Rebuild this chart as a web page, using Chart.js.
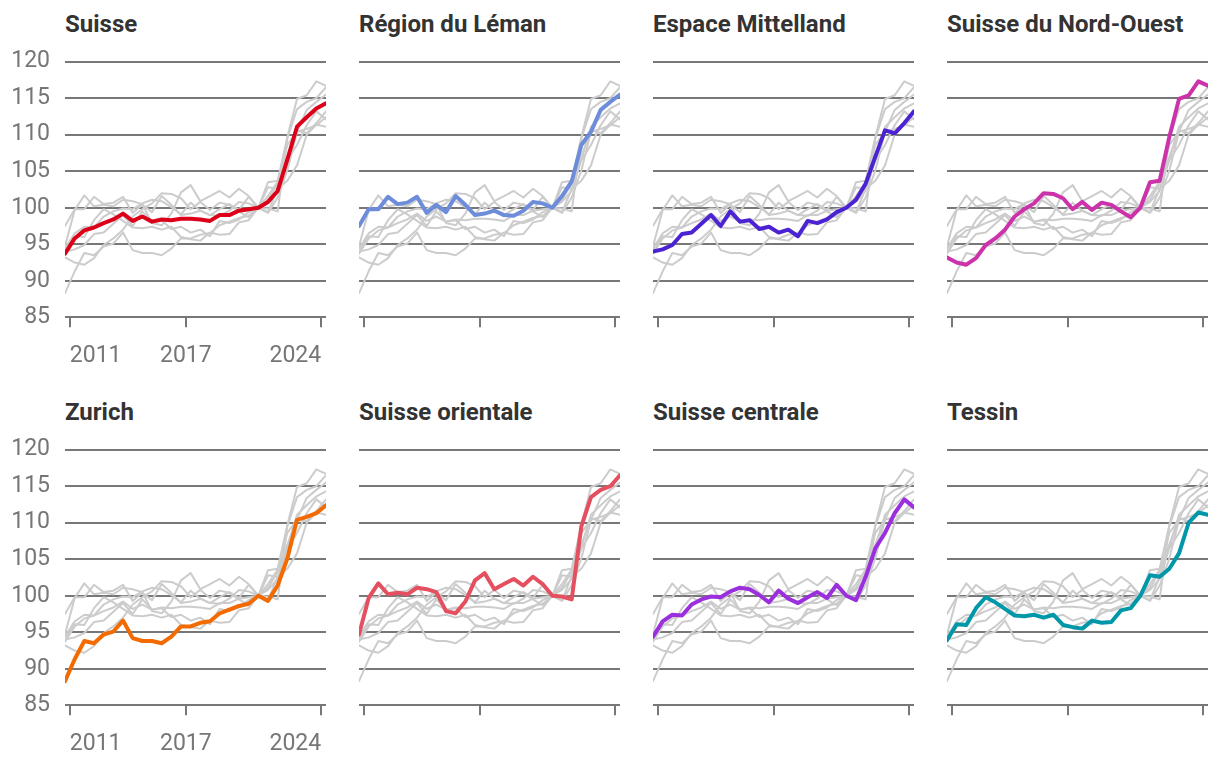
<!DOCTYPE html>
<html>
<head>
<meta charset="utf-8">
<script src="https://cdn.jsdelivr.net/npm/chart.js@4.4.1/dist/chart.umd.min.js"></script>
<style>
  html, body { margin: 0; padding: 0; overflow: hidden; background: #fff; }
  body { position: relative; width: 1220px; height: 766px; font-family: Roboto, sans-serif; }
  .panel-title { position: absolute; font-size: 24px; line-height: 28px; font-weight: bold; color: #333; white-space: nowrap; }
  canvas { position: absolute; }
</style>
</head>
<body>
<script>
// semestres
var periods = [2010.75, 2011.25, 2011.75, 2012.25, 2012.75, 2013.25, 2013.75, 2014.25,
  2014.75, 2015.25, 2015.75, 2016.25, 2016.75, 2017.25, 2017.75, 2018.25, 2018.75,
  2019.25, 2019.75, 2020.25, 2020.75, 2021.25, 2021.75, 2022.25, 2022.75, 2023.25,
  2023.75, 2024.25];

var suisse = [93.7, 95.8, 96.9, 97.3, 97.9, 98.4, 99.2, 98.2, 98.8, 98.1, 98.4, 98.3, 98.5, 98.5,
  98.4, 98.2, 99.0, 99.0, 99.6, 99.8, 100.0, 100.8, 102.3, 106.6, 111.1, 112.4, 113.6, 114.3];
var leman = [97.5, 99.8, 99.8, 101.5, 100.5, 100.7, 101.5, 99.3, 100.4, 99.4, 101.6, 100.4, 99.0, 99.2,
  99.6, 99.0, 98.9, 99.6, 100.8, 100.6, 100.0, 101.6, 103.6, 108.6, 110.4, 113.4, 114.5, 115.5];
var mittelland = [94.0, 94.3, 94.9, 96.4, 96.6, 97.8, 99.0, 97.5, 99.5, 98.1, 98.3, 97.1, 97.4, 96.6,
  97.0, 96.1, 98.2, 97.9, 98.4, 99.4, 100.0, 101.1, 103.3, 107.0, 110.6, 110.2, 111.6, 113.2];
var nordOuest = [93.2, 92.5, 92.2, 93.1, 94.9, 95.8, 97.0, 98.8, 99.8, 100.6, 102.0, 101.9, 101.3, 99.8,
  100.8, 99.7, 100.7, 100.4, 99.5, 98.7, 100.0, 103.5, 103.7, 109.7, 114.9, 115.4, 117.3, 116.7];
var zurich = [88.3, 91.3, 93.8, 93.5, 94.7, 95.1, 96.6, 94.2, 93.8, 93.8, 93.5, 94.4, 95.8, 95.8,
  96.3, 96.5, 97.6, 98.1, 98.6, 98.9, 100.0, 99.3, 101.4, 105.1, 110.4, 110.8, 111.3, 112.4];
var orientale = [94.7, 99.7, 101.7, 100.2, 100.4, 100.2, 101.1, 100.9, 100.5, 97.9, 97.6, 99.2, 102.1, 103.1,
  100.9, 101.6, 102.3, 101.4, 102.6, 101.6, 100.0, 99.9, 99.5, 109.5, 113.5, 114.5, 115.0, 116.5];
var centrale = [94.4, 96.5, 97.4, 97.3, 98.8, 99.5, 99.9, 99.8, 100.6, 101.1, 100.9, 100.1, 99.1, 100.7,
  99.6, 99.0, 99.8, 100.5, 99.7, 101.5, 100.0, 99.4, 102.6, 106.5, 108.6, 111.3, 113.2, 112.1];
var tessin = [93.9, 96.1, 96.0, 98.3, 99.8, 99.1, 98.2, 97.3, 97.2, 97.4, 97.0, 97.4, 96.0, 95.7,
  95.5, 96.6, 96.3, 96.4, 98.0, 98.3, 100.0, 102.8, 102.6, 103.7, 105.8, 110.0, 111.4, 111.1];

var regions = ["Suisse", "Région du Léman", "Espace Mittelland", "Suisse du Nord-Ouest",
  "Zurich", "Suisse orientale", "Suisse centrale", "Tessin"];
var regionValues = [suisse, leman, mittelland, nordOuest, zurich, orientale, centrale, tessin];
var regionColors = ["#dc0018", "#6d8ddb", "#4b23d3", "#cc33aa", "#f26a00", "#e4505f", "#9b2fdd", "#0098a8"];

var xTickYears = [2011, 2017, 2024];
var yMin = 85, yMax = 120, yStep = 5;

Chart.defaults.font.family = "Roboto, sans-serif";

var plotLefts = [65, 359, 653, 947];
var rowTop = 388;

function points(values) {
  return values.map(function (v, i) { return { x: periods[i], y: v }; });
}

/**
un petit graphique par région
*/
function drawPanel(index) {
  var col = index % 4;
  var row = Math.floor(index / 4);
  var showLabels = col === 0;

  var title = document.createElement("div");
  title.className = "panel-title";
  title.textContent = regions[index];
  title.style.left = plotLefts[col] + "px";
  title.style.top = (9.7 + row * rowTop) + "px";
  document.body.appendChild(title);

  var canvas = document.createElement("canvas");
  canvas.width = 338;
  canvas.height = 380;
  canvas.style.left = (plotLefts[col] - 65) + "px";
  canvas.style.top = (row * rowTop) + "px";
  document.body.appendChild(canvas);

  var datasets = [{
    data: points(regionValues[index]),
    borderColor: regionColors[index],
    borderWidth: 4,
    order: 0
  }];
  regionValues.forEach(function (values, i) {
    if (i === index) return;
    datasets.push({
      data: points(values),
      borderColor: "#cccccc",
      borderWidth: 2,
      order: 1
    });
  });

  var config = {
    type: "line",
    data: { datasets: datasets },
    options: {
      responsive: false,
      animation: false,
      events: [],
      layout: { padding: { top: 61.7, right: 12, bottom: 12.7, left: 0 } },
      elements: {
        point: { radius: 0 },
        line: { tension: 0, borderJoinStyle: "round", borderCapStyle: "round", fill: false }
      },
      plugins: { legend: { display: false }, tooltip: { enabled: false }, title: { display: false } },
      scales: {
        x: {
          type: "linear",
          min: periods[0],
          max: periods[periods.length - 1],
          afterBuildTicks: function (scale) {
            scale.ticks = xTickYears.map(function (v) { return { value: v }; });
          },
          afterFit: function (scale) { scale.height = 50; },
          grid: { drawOnChartArea: false, drawTicks: true, tickLength: 10, color: "#777777", lineWidth: 2 },
          border: { display: false },
          ticks: {
            align: "inner",
            autoSkip: false,
            maxRotation: 0,
            padding: 15,
            color: "#767676",
            font: { size: 23 },
            callback: function (value) { return showLabels ? String(value) : ""; }
          }
        },
        y: {
          min: yMin,
          max: yMax,
          afterFit: function (scale) { scale.width = 65; },
          grid: { drawTicks: false, color: "#777777", lineWidth: 2 },
          border: { display: false },
          ticks: {
            stepSize: yStep,
            padding: 15,
            color: "#767676",
            font: { size: 23 },
            callback: function (value) { return showLabels ? String(value) : ""; }
          }
        }
      }
    }
  };
  new Chart(canvas.getContext("2d"), config);
}

for (var i = 0; i < regions.length; i++) {
  drawPanel(i);
}
</script>
</body>
</html>
